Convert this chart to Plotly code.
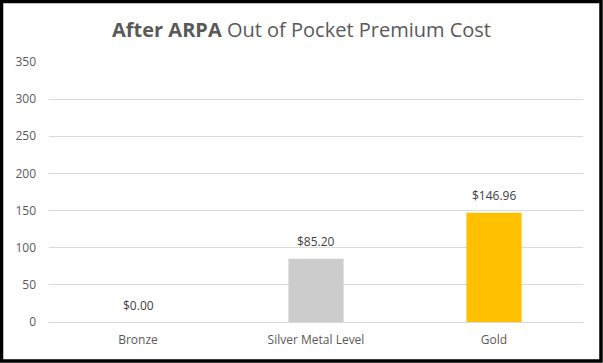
import plotly.graph_objects as go

categories = ["Bronze", "Silver Metal Level", "Gold"]
values = [0.00, 85.20, 146.96]
labels = ["$0.00", "$85.20", "$146.96"]
colors = ["#A5784A", "#CDCCCC", "#FFC000"]

W, H = 603, 363
ml, mr, mt, mb = 49, 20, 62, 41
pw, ph = W - ml - mr, H - mt - mb

fig = go.Figure(go.Bar(
    x=categories, y=values,
    marker=dict(color=colors, line=dict(width=0)),
    width=0.31,
))

for c, v, t in zip(categories, values, labels):
    fig.add_annotation(x=c, y=v, text=t, showarrow=False, xanchor="center",
                       yanchor="middle", yshift=17,
                       font=dict(family="Open Sans", size=12, color="#404040"))

fig.update_layout(
    width=W, height=H, margin=dict(l=ml, r=mr, t=mt, b=mb),
    paper_bgcolor="white", plot_bgcolor="white", showlegend=False,
    title=dict(text="<b>After ARPA</b> Out of Pocket Premium Cost",
               x=0.5, xanchor="center", y=1 - 30 / H, yanchor="middle",
               font=dict(family="Open Sans", size=20, color="#595959")),
    xaxis=dict(showgrid=False, showline=False, ticks="",
               ticklabelstandoff=9,
               tickfont=dict(family="Open Sans", size=12, color="#595959")),
    yaxis=dict(range=[0, 350], dtick=50, showgrid=True, gridcolor="#D9D9D9",
               gridwidth=1, zeroline=True, zerolinecolor="#D9D9D9",
               zerolinewidth=1, showline=False, ticks="",
               ticklabelstandoff=12,
               tickfont=dict(family="Open Sans", size=12, color="#595959")),
    shapes=[dict(type="rect", xref="paper", yref="paper",
                 x0=-(ml - 1.5) / pw, x1=1 + (mr - 2) / pw,
                 y0=-(mb - 2) / ph, y1=1 + (mt - 1.5) / ph,
                 line=dict(color="black", width=3.5), fillcolor="rgba(0,0,0,0)")],
)
fig.write_html("out.html")
